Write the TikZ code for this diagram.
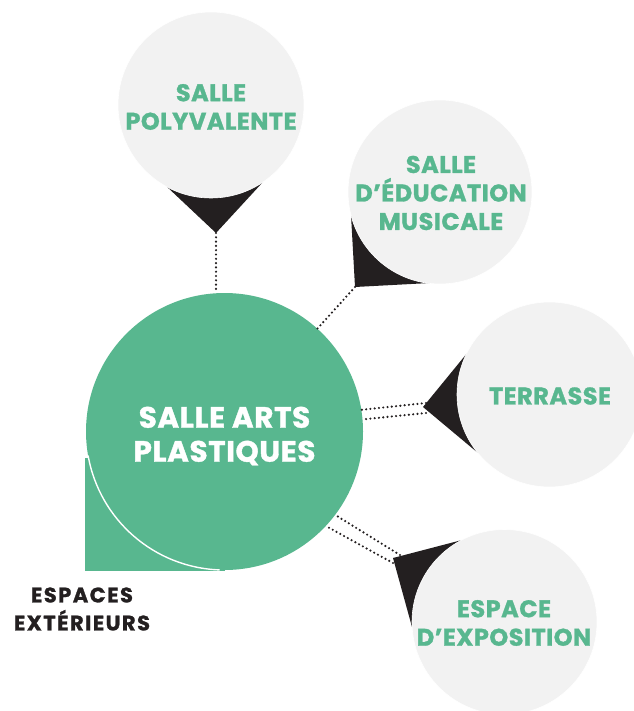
\documentclass[tikz,border=0pt]{standalone}
\usepackage{fontspec}
\setmainfont{Poppins}[BoldFeatures={FakeBold=1.2}]
\definecolor{vert}{HTML}{58B78F}
\definecolor{gris}{HTML}{F2F2F2}
\definecolor{noir}{HTML}{231F20}
\begin{document}
\begin{tikzpicture}[x=1pt,y=-1pt,
  bulle/.style={circle,fill=gris,draw=white,line width=0.6pt,outer sep=0pt,inner sep=0pt},
  bulletexte/.style={align=center,text=vert,font=\fontsize{24}{28.5}\selectfont\bfseries\addfontfeatures{LetterSpace=2}},
  pointe/.style={fill=noir,draw=none},
  pointille/.style={draw=noir,line width=2.4pt,line cap=round,dash pattern=on 0pt off 4.3pt}]
\useasboundingbox (0,0) rectangle (633,711);
% main circle with square corner
\fill[vert] (85,458) rectangle (224.5,571);
\node[circle,fill=vert,minimum size=277pt,inner sep=0pt,outer sep=0pt] (main) at (224.5,431.5) {};
\draw[white,line width=1.4pt] (main.190) arc[start angle=190,end angle=268,radius=138.5pt];
\node[align=center,text=white,font=\fontsize{29.5}{34}\selectfont\bfseries\addfontfeatures{LetterSpace=2}] (mainlbl) at (224.5,436) {SALLE ARTS\\PLASTIQUES};
\node[align=center,text=noir,font=\fontsize{21}{28}\selectfont\bfseries\addfontfeatures{LetterSpace=7}] (ext) at (82,609) {ESPACES\\EXTÉRIEURS};
% tips
\coordinate (t1) at (216,233);
\coordinate (t2) at (355,287);
\coordinate (t3) at (423,407);
\coordinate (t3a) at (426,403);
\coordinate (t3b) at (426,413);
\coordinate (t4) at (393,558);
\coordinate (t4a) at (400,555);
\coordinate (t4b) at (393,563);
% triangles
\fill[pointe] (165,185) -- (t1) -- (263,182) -- cycle;
\fill[pointe] (351,215) -- (t2) -- (430,283) -- cycle;
\fill[pointe] (468,352) -- (t3) -- (478,453) -- cycle;
\fill[pointe] (462,540) -- (t4) -- (412,627) -- cycle;
% bubbles
\node[bulle,minimum size=186pt] (poly) at (211,105) {};
\node[bulletexte] (polylbl) at (211,107) {SALLE\\POLYVALENTE};
\node[bulle,minimum size=184pt] (musi) at (440,192) {};
\node[bulletexte] (musilbl) at (441,193) {SALLE\\D’ÉDUCATION\\MUSICALE};
\node[bulle,minimum size=185pt] (terr) at (549.5,394.5) {};
\node[bulletexte] (terrlbl) at (550,396) {TERRASSE};
\node[bulle,minimum size=185pt] (expo) at (504.5,622) {};
\node[bulletexte] (expolbl) at (504,623) {ESPACE\\D’EXPOSITION};
% connectors
\draw[pointille] (t1) -- (t1 |- main.north);
\draw[pointille] (t2) -- (main);
\draw[pointille] (t3a) -- (main.9);
\draw[pointille] (t3b) -- (main.5);
\draw[pointille] (t4a) -- (main.-37);
\draw[pointille] (t4b) -- (main.-43);
\end{tikzpicture}
\end{document}
